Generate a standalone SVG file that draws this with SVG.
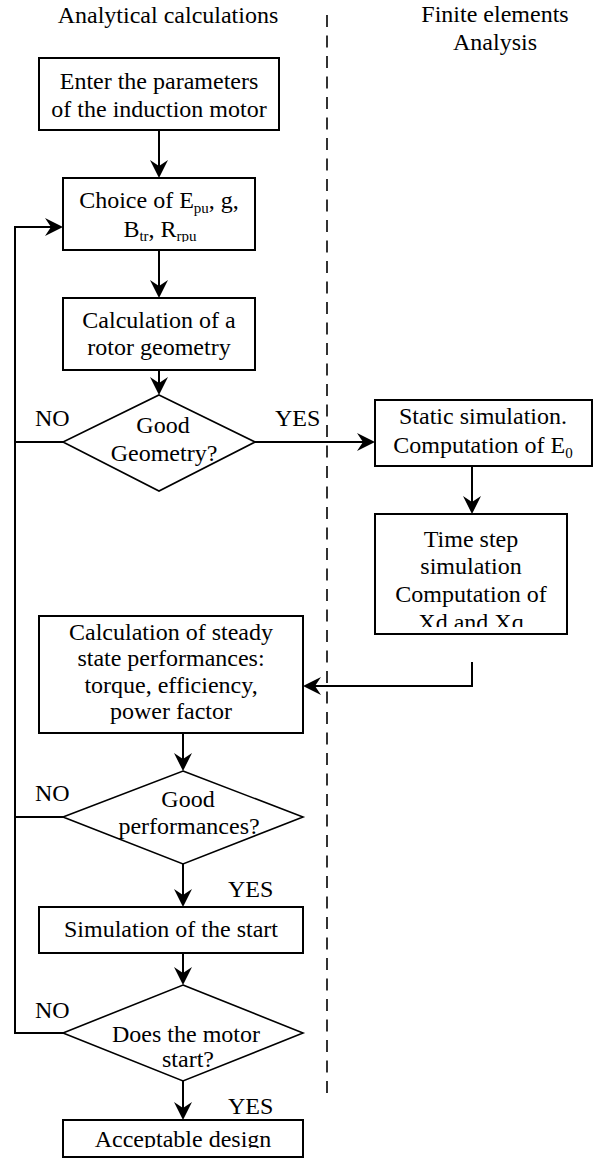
<svg xmlns="http://www.w3.org/2000/svg" width="603" height="1158" viewBox="0 0 603 1158">
<style>
text{font-family:"Liberation Serif","Times New Roman",serif;font-size:24px;fill:#000;text-anchor:middle}
.sub{font-size:15px}
.lbl{text-anchor:start}
.box{fill:#fff;stroke:#000;stroke-width:2}
.dia{fill:#fff;stroke:#000;stroke-width:1.6}
.con{fill:none;stroke:#000;stroke-width:2}
.arr{fill:none;stroke:#000;stroke-width:2;marker-end:url(#ah)}
.dash{stroke:#000;stroke-width:1.6;stroke-dasharray:12 8.5}
</style>
<defs>
<marker id="ah" viewBox="0 0 18 18" markerWidth="18" markerHeight="18" refX="14" refY="9" orient="auto" markerUnits="userSpaceOnUse">
<path d="M0,0 L18,9 L0,18 L6,9 Z" fill="#000"/>
</marker>
<clipPath id="c2"><rect x="63" y="178" width="192" height="64"/></clipPath>
<clipPath id="c4"><rect x="375" y="400" width="217" height="59"/></clipPath>
<clipPath id="c5"><rect x="375" y="514" width="192" height="113"/></clipPath>
<clipPath id="c8"><rect x="63" y="1120" width="240" height="28"/></clipPath>
</defs>
<rect width="603" height="1158" fill="#fff"/>

<g id="headers">
<text x="168" y="23">Analytical calculations</text>
<text x="495" y="22">Finite elements</text>
<text x="495" y="50">Analysis</text>
<line class="dash" x1="327" y1="15" x2="327" y2="1095"/>
</g>

<g id="connectors">
<path class="arr" d="M159,130 V174"/>
<path class="arr" d="M159,250 V294"/>
<path class="arr" d="M159,370 V391"/>
<path class="arr" d="M255,442 H371"/>
<path class="arr" d="M472,466 V510"/>
<path class="arr" d="M472,662 V686 H307"/>
<path class="arr" d="M183,733 V767"/>
<path class="arr" d="M183,864 V903"/>
<path class="arr" d="M183,953 V981"/>
<path class="arr" d="M183,1081 V1116"/>
<path class="arr" d="M63,1033 H15 V227 H59"/>
<path class="con" d="M63,817 H15"/>
<path class="con" d="M63,442 H15"/>
<text class="lbl" x="35" y="426">NO</text>
<text class="lbl" x="275" y="426">YES</text>
<text class="lbl" x="35" y="801">NO</text>
<text class="lbl" x="228" y="897">YES</text>
<text class="lbl" x="35" y="1018">NO</text>
<text class="lbl" x="228" y="1114">YES</text>
</g>

<g id="n1">
<rect class="box" x="39" y="58" width="240" height="72"/>
<text x="159" y="89">Enter the parameters</text>
<text x="159" y="117">of the induction motor</text>
</g>

<g id="n2">
<rect class="box" x="63" y="178" width="192" height="72"/>
<g clip-path="url(#c2)">
<text x="159" y="208">Choice of E<tspan class="sub" dy="5">pu</tspan><tspan dy="-5">, g,</tspan></text>
<text x="160" y="237">B<tspan class="sub" dy="4">tr</tspan><tspan dy="-4">, R</tspan><tspan class="sub" dy="4">rpu</tspan></text>
</g>
</g>

<g id="n3">
<rect class="box" x="63" y="298" width="192" height="72"/>
<text x="159" y="328">Calculation of a</text>
<text x="159" y="355">rotor geometry</text>
</g>

<g id="d1">
<polygon class="dia" points="159,395 255,442 159,491 63,442"/>
<text x="163" y="433">Good</text>
<text x="164" y="461">Geometry?</text>
</g>

<g id="n4">
<rect class="box" x="375" y="400" width="217" height="66"/>
<g clip-path="url(#c4)">
<text x="483" y="424">Static simulation.</text>
<text x="483" y="453">Computation of E<tspan class="sub" dy="5">0</tspan></text>
</g>
</g>

<g id="n5">
<rect class="box" x="375" y="514" width="192" height="120"/>
<g clip-path="url(#c5)">
<text x="471" y="547">Time step</text>
<text x="471" y="574">simulation</text>
<text x="471" y="602">Computation of</text>
<text x="471" y="630">Xd and Xq</text>
</g>
</g>

<g id="n6">
<rect class="box" x="39" y="616" width="264" height="117"/>
<text x="171" y="640">Calculation of steady</text>
<text x="171" y="666">state performances:</text>
<text x="171" y="693">torque, efficiency,</text>
<text x="171" y="719">power factor</text>
</g>

<g id="d2">
<polygon class="dia" points="183,771 303,817 183,864 63,817"/>
<text x="188" y="807">Good</text>
<text x="189" y="834">performances?</text>
</g>

<g id="n7">
<rect class="box" x="39" y="907" width="264" height="46"/>
<text x="171" y="937">Simulation of the start</text>
</g>

<g id="d3">
<polygon class="dia" points="183,985 303,1033 183,1081 63,1033"/>
<text x="186" y="1042">Does the motor</text>
<text x="188" y="1067">start?</text>
</g>

<g id="n8">
<rect class="box" x="63" y="1120" width="240" height="37"/>
<g clip-path="url(#c8)">
<text x="183" y="1147">Acceptable design</text>
</g>
</g>
</svg>
